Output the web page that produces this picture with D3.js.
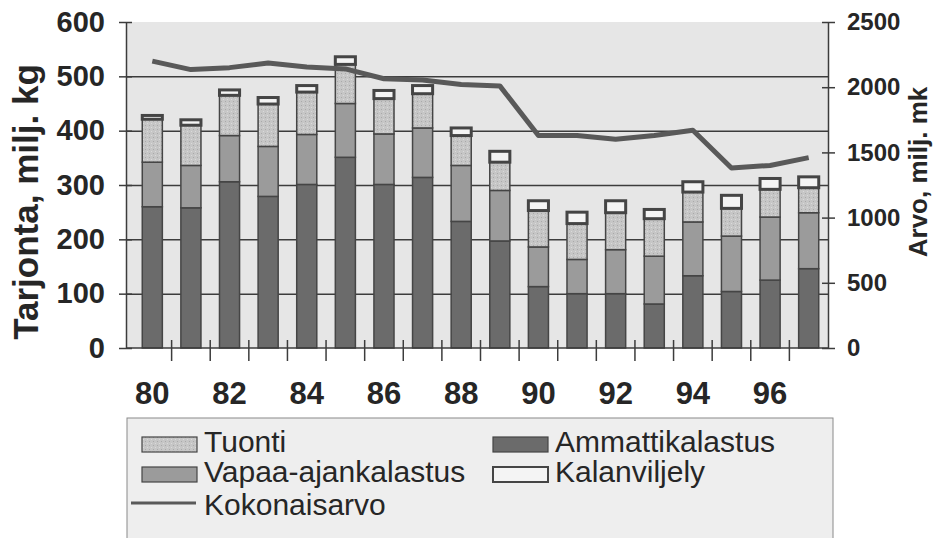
<!DOCTYPE html>
<html>
<head>
<meta charset="utf-8">
<script src="https://cdn.jsdelivr.net/npm/d3@7"></script>
<style>
    body { margin: 0; background: #fff; }
    text { font-family: "Liberation Sans", Arial, sans-serif; fill: #262626; }
</style>
</head>
<body>
<div id="chart"></div>
<script>
// Vuodet (19xx)
const years = ["80", "81", "82", "83", "84", "85", "86", "87", "88", "89",
    "90", "91", "92", "93", "94", "95", "96", "97"];
// milj. kg
const ammattikalastus = [260, 258, 306, 279, 301, 351, 301, 314, 233, 197, 113, 100, 100, 81, 133, 104, 125, 146];
const vapaaAjankalastus = [82, 78, 85, 92, 92, 99, 93, 91, 103, 93, 73, 63, 81, 88, 99, 102, 116, 103];
const tuonti = [79, 74, 74, 78, 78, 72, 65, 63, 55, 52, 67, 66, 68, 69, 55, 51, 51, 46];
const kalanviljely = [7, 10, 10, 12, 12, 14, 15, 15, 14, 20, 18, 21, 22, 17, 19, 24, 20, 20];
// milj. mk
const kokonaisarvo = [2200, 2135, 2150, 2185, 2155, 2140, 2065, 2055, 2020, 2010,
    1630, 1630, 1600, 1630, 1670, 1380, 1400, 1460];

const leftTicks = [0, 100, 200, 300, 400, 500, 600];
const rightTicks = [0, 500, 1000, 1500, 2000, 2500];
const xLabels = ["80", "82", "84", "86", "88", "90", "92", "94", "96"];

const W = 936, H = 538;
const plot = { left: 126, right: 828, top: 22, bottom: 348 };

const svg = d3.select("#chart").append("svg")
    .attr("width", W)
    .attr("height", H);

// pistekuvio tuonnille
const defs = svg.append("defs");
const pat = defs.append("pattern")
    .attr("id", "stipple")
    .attr("width", 4).attr("height", 4)
    .attr("patternUnits", "userSpaceOnUse");
pat.append("rect").attr("width", 4).attr("height", 4).attr("fill", "#c6c6c6");
pat.append("rect").attr("x", 1).attr("y", 1).attr("width", 1).attr("height", 1).attr("fill", "#a9a9a9");
pat.append("rect").attr("x", 3).attr("y", 3).attr("width", 1).attr("height", 1).attr("fill", "#dadada");

const rows = years.map((y, i) => ({
    year: y,
    "Ammattikalastus": ammattikalastus[i],
    "Vapaa-ajankalastus": vapaaAjankalastus[i],
    "Tuonti": tuonti[i],
    "Kalanviljely": kalanviljely[i]
}));
const keys = ["Ammattikalastus", "Vapaa-ajankalastus", "Tuonti", "Kalanviljely"];
const fills = {
    "Ammattikalastus": "#6b6b6b",
    "Vapaa-ajankalastus": "#9b9b9b",
    "Tuonti": "url(#stipple)",
    "Kalanviljely": "#f4f4f4"
};

const x = d3.scaleBand()
    .domain(years)
    .range([133, plot.right])
    .paddingInner(0.48)
    .paddingOuter(0.24);

const yL = d3.scaleLinear().domain([0, 600]).range([plot.bottom, plot.top]);
const yR = d3.scaleLinear().domain([0, 2500]).range([plot.bottom, plot.top]);

// taustat
svg.append("rect")
    .attr("x", plot.left).attr("y", plot.top)
    .attr("width", plot.right - plot.left)
    .attr("height", plot.bottom - plot.top)
    .attr("fill", "#e6e6e6");

// vaakaviivat
svg.append("g")
    .attr("transform", `translate(${plot.left},0)`)
    .call(d3.axisLeft(yL).tickValues(leftTicks.slice(1, -1))
        .tickSize(-(plot.right - plot.left)).tickFormat(""))
    .call(g => g.select(".domain").remove())
    .selectAll("line")
    .attr("stroke", "#5a5a5a")
    .attr("stroke-width", 1.5);

// pinotut pylväät
const stack = d3.stack().keys(keys)(rows);
svg.append("g").selectAll("g")
    .data(stack)
    .join("g")
    .attr("fill", d => fills[d.key])
    .attr("stroke", "#454545")
    .attr("stroke-width", d => d.key === "Kalanviljely" ? 3 : 1.5)
    .selectAll("rect")
    .data(d => d)
    .join("rect")
    .attr("x", d => x(d.data.year))
    .attr("y", d => yL(d[1]))
    .attr("width", x.bandwidth())
    .attr("height", d => yL(d[0]) - yL(d[1]));

// kokonaisarvo
const line = d3.line()
    .x((d, i) => x(years[i]) + x.bandwidth() / 2)
    .y(d => yR(d));
svg.append("path")
    .datum(kokonaisarvo)
    .attr("d", line)
    .attr("fill", "none")
    .attr("stroke", "#595959")
    .attr("stroke-width", 5)
    .attr("stroke-linejoin", "round");

// akselit
const axisColor = "#3c3c3c";
const left = svg.append("g")
    .attr("transform", `translate(${plot.left},0)`)
    .call(d3.axisLeft(yL).tickValues(leftTicks).tickSizeInner(7).tickSizeOuter(0).tickPadding(14));
left.selectAll("line").attr("x2", -7).attr("x1", 6);
left.selectAll("text").style("font-size", "29px").style("font-weight", "bold");

const right = svg.append("g")
    .attr("transform", `translate(${plot.right},0)`)
    .call(d3.axisRight(yR).tickValues(rightTicks).tickFormat(d3.format("d"))
        .tickSizeInner(7).tickSizeOuter(0).tickPadding(12));
right.selectAll("line").attr("x1", -6);
right.selectAll("text").style("font-size", "24px").style("font-weight", "bold");

const gap = x.step() * x.paddingInner();
const bottom = svg.append("g")
    .attr("transform", `translate(0,${plot.bottom})`)
    .call(d3.axisBottom(x).tickValues(xLabels).tickSize(0).tickPadding(34).tickSizeOuter(0));
bottom.select(".domain").attr("d", `M${plot.left},0H${plot.right}`);
bottom.selectAll("text").style("font-size", "31px").style("font-weight", "bold");
// väliviivat pylväiden väliin
bottom.append("g").selectAll("line")
    .data(years.slice(0, -1))
    .join("line")
    .attr("x1", d => x(d) + x.bandwidth() + gap / 2)
    .attr("x2", d => x(d) + x.bandwidth() + gap / 2)
    .attr("y1", -8)
    .attr("y2", 13)
    .attr("stroke", axisColor)
    .attr("stroke-width", 1.5);

svg.selectAll(".domain, .tick line").attr("stroke", axisColor).attr("stroke-width", 1.5);
svg.selectAll(".tick text").attr("fill", "#262626");

// akselien otsikot
svg.append("text")
    .attr("transform", "translate(38,202) rotate(-90)")
    .attr("text-anchor", "middle")
    .style("font-size", "35px").style("font-weight", "bold")
    .text("Tarjonta, milj. kg");

svg.append("text")
    .attr("transform", "translate(927,172) rotate(-90)")
    .attr("text-anchor", "middle")
    .style("font-size", "26px").style("font-weight", "bold")
    .text("Arvo, milj. mk");

// selite
const legend = svg.append("g");
legend.append("rect")
    .attr("x", 127).attr("y", 418)
    .attr("width", 706).attr("height", 130)
    .attr("fill", "#eeeeee")
    .attr("stroke", "#8a8a8a")
    .attr("stroke-width", 1);

const legendItems = [
    { name: "Tuonti", key: "Tuonti", col: 0, row: 0 },
    { name: "Ammattikalastus", key: "Ammattikalastus", col: 1, row: 0 },
    { name: "Vapaa-ajankalastus", key: "Vapaa-ajankalastus", col: 0, row: 1 },
    { name: "Kalanviljely", key: "Kalanviljely", col: 1, row: 1 }
];
const colX = [142, 493];
const rowY = [452, 482, 515];

const items = legend.selectAll(".item")
    .data(legendItems)
    .join("g")
    .attr("class", "item");
items.append("rect")
    .attr("x", d => colX[d.col])
    .attr("y", d => rowY[d.row] - 15)
    .attr("width", 55)
    .attr("height", 15)
    .attr("fill", d => fills[d.key])
    .attr("stroke", "#454545")
    .attr("stroke-width", d => d.key === "Kalanviljely" ? 2 : 1.2);
items.append("text")
    .attr("x", d => colX[d.col] + 62)
    .attr("y", d => rowY[d.row])
    .style("font-size", "30px")
    .text(d => d.name);

legend.append("line")
    .attr("x1", 131).attr("x2", 196)
    .attr("y1", 503).attr("y2", 503)
    .attr("stroke", "#595959")
    .attr("stroke-width", 3);
legend.append("text")
    .attr("x", 204).attr("y", rowY[2])
    .style("font-size", "30px")
    .text("Kokonaisarvo");
</script>
</body>
</html>
